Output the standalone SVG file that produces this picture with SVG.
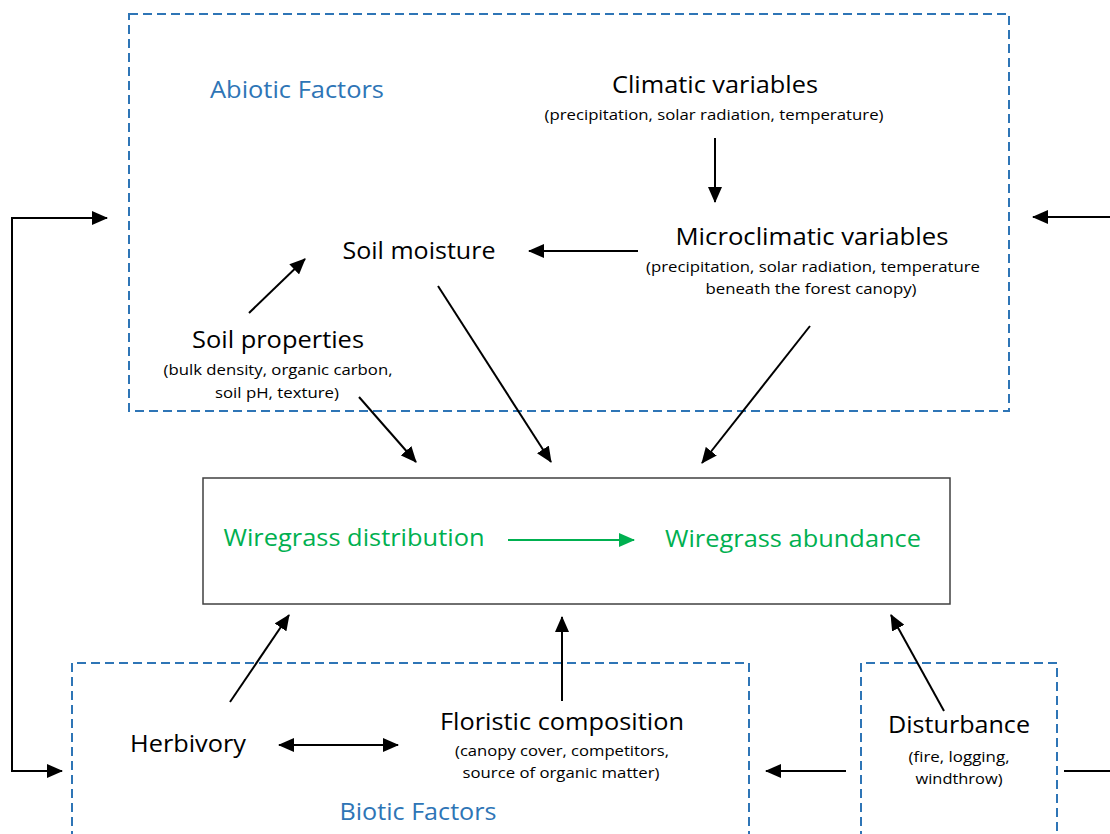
<svg xmlns="http://www.w3.org/2000/svg" width="1110" height="834" viewBox="0 0 1110 834">
<style>
.bg{fill:#ffffff}
.grp{fill:none;stroke:#2E75B6;stroke-width:2;stroke-dasharray:9 5}
.main{fill:#ffffff;stroke:#404040;stroke-width:1.5}
.t{font-family:"Open Sans","Noto Sans","Liberation Sans",sans-serif;fill:#000;text-anchor:middle}
.h{font-size:23px}
.s{font-size:15px}
.blue{fill:#2E75B6;font-size:23px}
.green{fill:#00B050;font-size:23px}
.c{fill:none;stroke:#000;stroke-width:2;marker-end:url(#ah)}
.cg{fill:none;stroke:#00B050;stroke-width:2;marker-end:url(#ahg)}
.cl{fill:none;stroke:#000;stroke-width:2}
</style>
<defs>
<marker id="ah" viewBox="0 0 16 14" refX="15" refY="7" markerWidth="16" markerHeight="14" markerUnits="userSpaceOnUse" orient="auto-start-reverse"><path d="M0,0 L16,7 L0,14 z" fill="#000"/></marker>
<marker id="ahg" viewBox="0 0 16 14" refX="15" refY="7" markerWidth="16" markerHeight="14" markerUnits="userSpaceOnUse" orient="auto"><path d="M0,0 L16,7 L0,14 z" fill="#00B050"/></marker>
</defs>
<rect class="bg" x="0" y="0" width="1110" height="834"/>

<g id="abiotic-group">
<rect class="grp" x="129" y="14" width="880" height="397"/>
<text class="t blue" x="297" y="98" textLength="174" lengthAdjust="spacingAndGlyphs">Abiotic Factors</text>
</g>
<g id="biotic-group">
<path class="grp" d="M72,840 L72,663 L749,663 L749,840"/>
<text class="t blue" x="418" y="820" textLength="157" lengthAdjust="spacingAndGlyphs">Biotic Factors</text>
</g>
<g id="disturbance-group">
<path class="grp" d="M861,840 L861,663 L1057,663 L1057,840"/>
</g>

<g id="climatic">
<text class="t h" x="715" y="93" textLength="206" lengthAdjust="spacingAndGlyphs">Climatic variables</text>
<text class="t s" x="714" y="120" textLength="339" lengthAdjust="spacingAndGlyphs">(precipitation, solar radiation, temperature)</text>
</g>
<g id="microclimatic">
<text class="t h" x="812" y="245" textLength="273" lengthAdjust="spacingAndGlyphs">Microclimatic variables</text>
<text class="t s" x="813" y="272" textLength="334" lengthAdjust="spacingAndGlyphs">(precipitation, solar radiation, temperature</text>
<text class="t s" x="811" y="294" textLength="211" lengthAdjust="spacingAndGlyphs">beneath the forest canopy)</text>
</g>
<g id="soil-moisture">
<text class="t h" x="419" y="259" textLength="153" lengthAdjust="spacingAndGlyphs">Soil moisture</text>
</g>
<g id="soil-properties">
<text class="t h" x="278" y="348" textLength="172" lengthAdjust="spacingAndGlyphs">Soil properties</text>
<text class="t s" x="278" y="375" textLength="229" lengthAdjust="spacingAndGlyphs">(bulk density, organic carbon,</text>
<text class="t s" x="277" y="398" textLength="124" lengthAdjust="spacingAndGlyphs">soil pH, texture)</text>
</g>

<g id="wiregrass">
<rect class="main" x="203" y="478" width="747" height="126"/>
<text class="t green" x="354" y="546" textLength="261" lengthAdjust="spacingAndGlyphs">Wiregrass distribution</text>
<text class="t green" x="793" y="547" textLength="256" lengthAdjust="spacingAndGlyphs">Wiregrass abundance</text>
</g>

<g id="herbivory">
<text class="t h" x="188" y="752" textLength="116" lengthAdjust="spacingAndGlyphs">Herbivory</text>
</g>
<g id="floristic">
<text class="t h" x="562" y="730" textLength="244" lengthAdjust="spacingAndGlyphs">Floristic composition</text>
<text class="t s" x="562" y="756" textLength="214" lengthAdjust="spacingAndGlyphs">(canopy cover, competitors,</text>
<text class="t s" x="561" y="778" textLength="197" lengthAdjust="spacingAndGlyphs">source of organic matter)</text>
</g>
<g id="disturbance">
<text class="t h" x="959" y="733" textLength="142" lengthAdjust="spacingAndGlyphs">Disturbance</text>
<text class="t s" x="959" y="762" textLength="101" lengthAdjust="spacingAndGlyphs">(fire, logging,</text>
<text class="t s" x="959" y="784" textLength="87" lengthAdjust="spacingAndGlyphs">windthrow)</text>
</g>

<g id="connectors">
<line class="c" x1="715" y1="138" x2="715" y2="202"/>
<line class="c" x1="638" y1="251" x2="529" y2="251"/>
<line class="c" x1="249" y1="313" x2="305" y2="259"/>
<line class="c" x1="359" y1="397" x2="416" y2="462"/>
<line class="c" x1="438" y1="286" x2="551" y2="462"/>
<line class="c" x1="810" y1="326" x2="702" y2="463"/>
<line class="cg" x1="508" y1="540" x2="634" y2="540"/>
<line class="c" x1="230" y1="702" x2="289" y2="615"/>
<line class="c" x1="562" y1="701" x2="562" y2="617"/>
<line class="c" x1="944" y1="711" x2="891" y2="615"/>
<line class="c" x1="279" y1="745" x2="398" y2="745" marker-start="url(#ah)"/>
<line class="c" x1="846" y1="771" x2="766" y2="771"/>
<line class="cl" x1="1064" y1="771" x2="1112" y2="771"/>
<line class="c" x1="1112" y1="217" x2="1033" y2="217"/>
<polyline class="c" points="107,218 12,218 12,771 62,771" marker-start="url(#ah)"/>
</g>
</svg>
